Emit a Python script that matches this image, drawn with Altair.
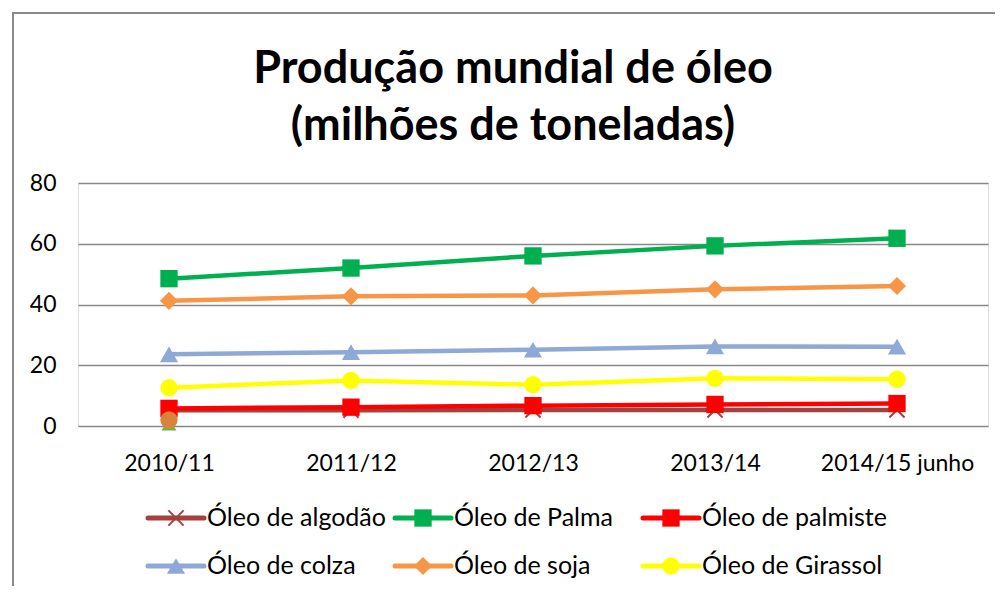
import altair as alt
import pandas as pd

categories = ["2010/11", "2011/12", "2012/13", "2013/14", "2014/15 junho"]
series_names = ["Óleo de algodão", "Óleo de Palma", "Óleo de palmiste",
                "Óleo de colza", "Óleo de soja", "Óleo de Girassol"]
algodao = [5.2, 5.2, 5.3, 5.3, 5.3]
palma = [48.5, 52.0, 56.0, 59.3, 61.8]
palmiste = [5.8, 6.2, 6.7, 7.1, 7.4]
colza = [23.6, 24.3, 25.1, 26.2, 26.1]
soja = [41.2, 42.7, 43.0, 45.0, 46.1]
girassol = [12.6, 15.0, 13.6, 15.7, 15.4]
stray_cat = ["2010/11"]
stray_orange_val = [2.0]
stray_green_val = [0.6]

values = [algodao, palma, palmiste, colza, soja, girassol]
colors = ["#A5403D", "#00B050", "#FF0000", "#8EA9D6", "#F79646", "#FFFF00"]
X_PATH = "M-1,-1L1,1M-1,1L1,-1"
shapes = [X_PATH, "square", "square", "triangle-up", "diamond", "circle"]
sizes = [230, 300, 300, 330, 330, 300]

FONT = "Lato"
W, H = 910, 243

xenc = alt.X("cat:N", sort=categories,
             scale=alt.Scale(domain=categories),
             axis=alt.Axis(title=None, labelAngle=0, domain=False, ticks=False,
                           labelFontSize=23, labelFont=FONT, labelColor="#000000",
                           labelPadding=26, grid=False))
yenc = alt.Y("v:Q", scale=alt.Scale(domain=[0, 80]),
             axis=alt.Axis(title=None, values=[0, 20, 40, 60, 80], domain=False,
                           ticks=False, grid=True, gridColor="#888888", gridWidth=1.5,
                           labelFontSize=23, labelFont=FONT, labelColor="#000000",
                           labelPadding=22))

layers = []

frame = alt.Chart(pd.DataFrame({"a": [0]})).mark_rect(
    fillOpacity=0, stroke="#8a8a8a", strokeWidth=2
).encode(x=alt.value(-65), x2=alt.value(960), y=alt.value(-170), y2=alt.value(450))
layers.append(frame)

title_lines = ["Produção mundial de óleo", "(milhões de toneladas)"]
for i, line in enumerate(title_lines):
    layers.append(
        alt.Chart(pd.DataFrame({"t": [line]})).mark_text(
            font=FONT, fontSize=45, fontWeight="bold", color="#000000",
            align="center", baseline="alphabetic"
        ).encode(text="t:N", x=alt.value(435), y=alt.value(-100 + 57 * i))
    )

for name, vals, col, shp, sz in zip(series_names, values, colors, shapes, sizes):
    d = pd.DataFrame({"cat": categories, "v": vals})
    base = alt.Chart(d)
    layers.append(base.mark_line(color=col, strokeWidth=4.5).encode(x=xenc, y=yenc))
    if shp == X_PATH:
        layers.append(base.mark_point(shape=shp, filled=False, color=col, strokeWidth=2,
                                      size=sz, opacity=1).encode(x=xenc, y=yenc))
    else:
        layers.append(base.mark_point(shape=shp, filled=True, color=col, size=sz,
                                      opacity=1).encode(x=xenc, y=yenc))

stray_g = pd.DataFrame({"cat": stray_cat, "v": stray_green_val})
layers.append(alt.Chart(stray_g).mark_point(shape="triangle-up", filled=True,
                                            color="#77B041", size=220, opacity=1)
              .encode(x=xenc, y=yenc))
stray_o = pd.DataFrame({"cat": stray_cat, "v": stray_orange_val})
layers.append(alt.Chart(stray_o).mark_point(shape="circle", filled=True,
                                            color="#D9833C", size=300, opacity=1)
              .encode(x=xenc, y=yenc))

# legend (2 rows x 3 columns)
col_x = [70, 317, 565]
row_y = [335, 383]
LINE_LEN = 56
text_layers = []
for k, (name, col, shp, sz) in enumerate(zip(series_names, colors, shapes, sizes)):
    cx = col_x[k % 3]
    cy = row_y[k // 3]
    one = alt.Chart(pd.DataFrame({"t": [name]}))
    layers.append(one.mark_rule(color=col, strokeWidth=5, strokeCap="round").encode(
        x=alt.value(cx), x2=alt.value(cx + LINE_LEN), y=alt.value(cy)))
    if shp == X_PATH:
        layers.append(one.mark_point(shape=shp, filled=False, color=col, strokeWidth=2,
                                     size=sz, opacity=1).encode(
            x=alt.value(cx + LINE_LEN / 2), y=alt.value(cy)))
    else:
        layers.append(one.mark_point(shape=shp, filled=True, color=col, size=sz,
                                     opacity=1).encode(
            x=alt.value(cx + LINE_LEN / 2), y=alt.value(cy)))
    text_layers.append(one.mark_text(font=FONT, fontSize=25, color="#000000", align="left",
                                     baseline="middle").encode(
        text="t:N", x=alt.value(cx + 59), y=alt.value(cy)))
layers.extend(text_layers)

chart = alt.layer(*layers).properties(
    width=W, height=H,
    autosize=alt.AutoSizeParams(type="none"),
    padding={"left": 70, "top": 175, "right": 7, "bottom": 160},
).configure_view(stroke=None).configure(background="#ffffff")

chart.save("out.html", embed_options={"renderer": "svg", "actions": False})
